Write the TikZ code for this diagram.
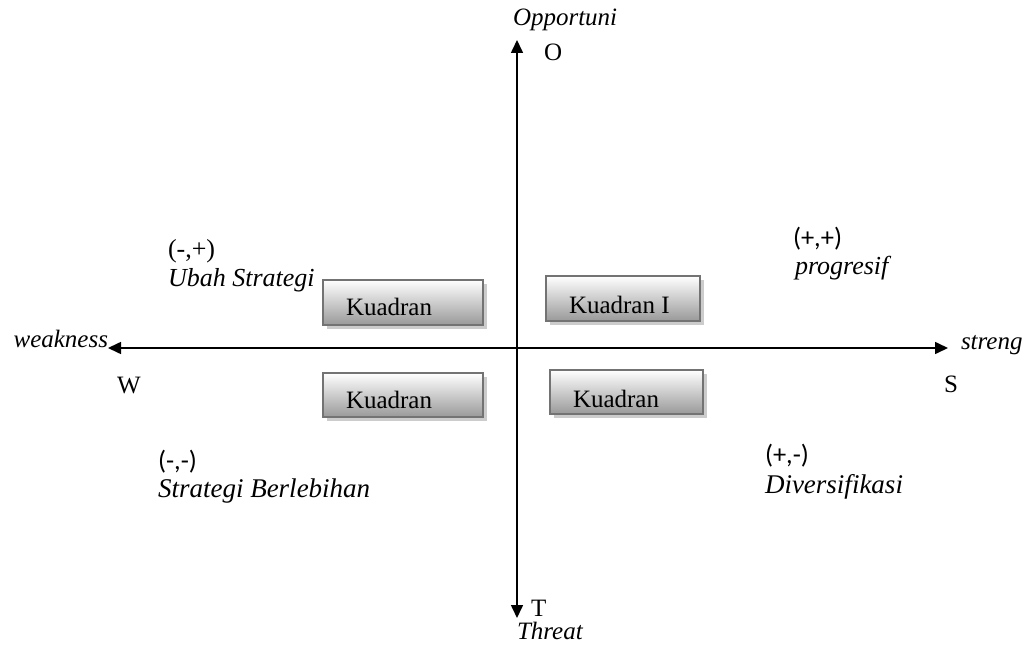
\documentclass[tikz,border=0pt]{standalone}
\usepackage{fontspec}
\setmainfont{Liberation Serif}
\newfontfamily\sansf{Carlito}
\usetikzlibrary{arrows.meta,shadows}
\begin{document}
\begin{tikzpicture}[x=1pt,y=-1pt,
  every node/.style={font=\fontsize{25}{30}\selectfont, inner sep=0pt, outer sep=0pt},
  axis/.style={line width=1.6pt, {Triangle[length=13pt,width=12pt]}-{Triangle[length=13pt,width=12pt]}},
  quadbox/.style={draw=black!55, line width=2pt, top color=white, bottom color=black!40,
    rectangle, anchor=north west, drop shadow={shadow xshift=4pt, shadow yshift=-4pt, fill=black!20, opacity=1}},
  lbl/.style={anchor=base west},
  it/.style={anchor=base west, font=\fontsize{25}{30}\selectfont\itshape},
  itb/.style={anchor=base west, font=\fontsize{27}{32}\selectfont\itshape},
  sn/.style={anchor=base west, font=\fontsize{26.5}{30}\selectfont\sansf}
]
\useasboundingbox (0,0) rectangle (1028,647);
% axes
\coordinate (Wend) at (108,348);
\coordinate (Eend) at (948,348);
\coordinate (Nend) at (517,40);
\coordinate (Send) at (517,618);
\draw[axis] (Wend) -- (Eend);
\draw[axis] (Send) -- (Nend);
% boxes
\node[quadbox, minimum width=160pt, minimum height=45pt] (b1) at (323,280) {};
\node[quadbox, minimum width=154pt, minimum height=45pt] (b2) at (546,276) {};
\node[quadbox, minimum width=160pt, minimum height=44pt] (b3) at (323,373) {};
\node[quadbox, minimum width=153pt, minimum height=44pt] (b4) at (550,370) {};
\node[lbl] (t1) at (346,315) {Kuadran};
\node[lbl] (t2) at (569,313) {Kuadran I};
\node[lbl] (t3) at (346,408) {Kuadran};
\node[lbl] (t4) at (573,407) {Kuadran};
% axis labels
\node[it] (opp) at (513,26) {Opportuni};
\node[lbl] (O) at (544,61) {O};
\node[lbl] (T) at (531,616) {T};
\node[it] (thr) at (517,639) {Threat};
\node[it, anchor=base east] (weak) at (108,347) {weakness};
\node[it] (str) at (961,349) {streng};
\node[lbl] (W) at (117,393) {W};
\node[lbl] (S) at (944,392) {S};
% quadrant descriptions
\node[lbl, font=\fontsize{26}{30}\selectfont] (q2a) at (168,258) {(-,+)};
\node[it, font=\fontsize{26}{30}\selectfont\itshape] (q2b) at (168,286) {Ubah Strategi};
\node[sn] (q1a) at (793,247) {(+,+)};
\node[it, font=\fontsize{26}{30}\selectfont\itshape] (q1b) at (795,274) {progresif};
\node[sn] (q3a) at (158,469) {(-,-)};
\node[itb] (q3b) at (158,497) {Strategi Berlebihan};
\node[sn] (q4a) at (765,463) {(+,-)};
\node[itb] (q4b) at (765,493) {Diversifikasi};
\end{tikzpicture}
\end{document}
